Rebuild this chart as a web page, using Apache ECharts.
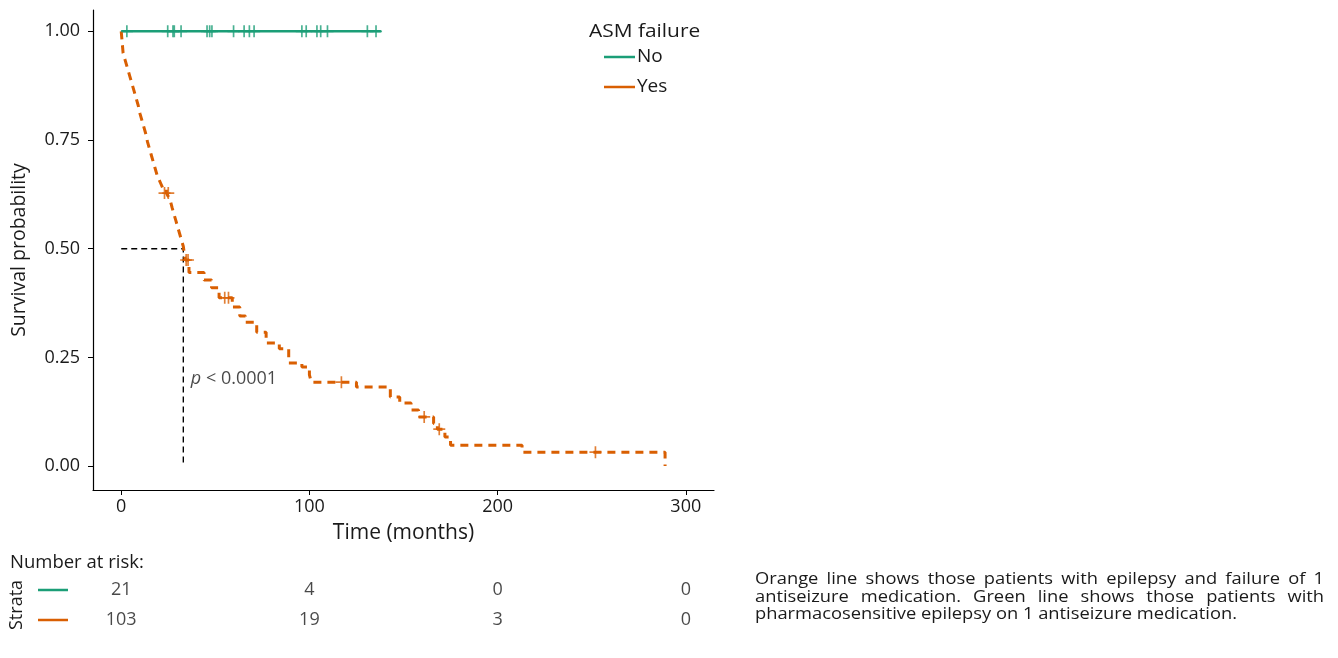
<!doctype html>
<html lang="en">
<head>
    <meta charset="UTF-8">
    <title>ASM failure survival</title>
    <style>
        body{ margin:0; background:#fff; }
        #chart{ width:1338px; height:658px; }
        .caption{
            position:absolute;
            left:755px;
            top:570px;
            width:497px;
            font-family:"Open Sans", sans-serif;
            font-size:16px;
            line-height:17.5px;
            color:#1a1a1a;
            text-align:justify;
            transform:scaleX(1.145);
            transform-origin:0 0;
        }
    </style>
</head>
<body>
    <div id="chart"></div>
    <div class="caption">Orange line shows those patients with epilepsy and failure of 1 antiseizure medication. Green line shows those patients with pharmacosensitive epilepsy on 1 antiseizure medication.</div>

    <script src="https://cdn.jsdelivr.net/npm/echarts@6/dist/echarts.min.js"></script>
    <script>
        // Kaplan-Meier steps, ASM failure = Yes
        var yesTimes = [0, 1, 2, 3, 4, 5, 6, 7, 8, 9, 10, 11, 12, 13, 14, 15, 16, 17, 18, 19, 20, 21, 22, 24, 25, 26, 27, 28, 29, 30, 31, 32, 33, 34, 36, 44, 48, 52, 59, 63, 66, 72, 77, 84, 89, 96, 100, 101, 125, 143, 148, 154, 158, 166, 168, 172, 175, 213, 289];
        var yesSurv  = [1.0, 0.95, 0.935, 0.92, 0.905, 0.89, 0.875, 0.86, 0.845, 0.83, 0.81, 0.795, 0.78, 0.765, 0.745, 0.73, 0.715, 0.70, 0.685, 0.67, 0.66, 0.65, 0.64, 0.628, 0.62, 0.612, 0.595, 0.58, 0.565, 0.55, 0.535, 0.52, 0.505, 0.474, 0.445, 0.428, 0.41, 0.387, 0.366, 0.345, 0.331, 0.308, 0.283, 0.27, 0.237, 0.228, 0.21, 0.193, 0.182, 0.159, 0.145, 0.129, 0.113, 0.098, 0.085, 0.067, 0.048, 0.032, 0.0];
        var yesCensorTimes = [23, 25, 34.5, 35.5, 55, 57, 117, 161, 169, 252];
        var yesCensorSurv  = [0.628, 0.628, 0.474, 0.474, 0.387, 0.387, 0.193, 0.113, 0.085, 0.032];

        // ASM failure = No
        var noTimes = [0, 138];
        var noSurv  = [1.0, 1.0];
        var noCensorTimes = [3, 24.7, 27.5, 28.2, 31.8, 45.6, 47, 48.2, 59.7, 65.3, 68.1, 70.6, 96, 98.3, 104, 106, 109.6, 130.8, 135.4];

        var medianTime = 33;
        var medianSurv = 0.5;

        var xTicks = [0, 100, 200, 300];
        var yTicks = [0, 0.25, 0.5, 0.75, 1.0];

        var riskTimes = [0, 100, 200, 300];
        var riskNo  = [21, 4, 0, 0];
        var riskYes = [103, 19, 3, 0];

        var green = '#1b9e77';
        var orange = '#d95f02';
        var ink = '#1a1a1a';
        var font = '"Open Sans", sans-serif';
        var plus = 'path://M-0.14,-1L0.14,-1L0.14,-0.14L1,-0.14L1,0.14L0.14,0.14L0.14,1L-0.14,1L-0.14,0.14L-1,0.14L-1,-0.14L-0.14,-0.14Z';

        function zip(a, b){ return a.map(function(v, i){ return [v, b[i]]; }); }

        var myChart = echarts.init(document.getElementById('chart'));

        var option = {
            animation: false,
            textStyle: { fontFamily: font },
            grid: [
                { left: 93, top: 10, width: 621, height: 480 },
                { left: 93, top: 575, width: 621, height: 60 }
            ],
            legend: {
                data: ['No', 'Yes'],
                orient: 'vertical',
                left: 599,
                top: 41,
                icon: 'rect',
                itemWidth: 31,
                itemHeight: 2.5,
                itemGap: 8,
                textStyle: { fontSize: 19, color: ink, lineHeight: 22, padding: [0, 0, 0, -3] }
            },
            xAxis: [{
                type: 'value', gridIndex: 0, min: -15, max: 315,
                name: 'Time (months)', nameLocation: 'middle', nameGap: 33,
                nameTextStyle: { fontSize: 21, color: ink },
                splitLine: { show: false },
                axisLine: { onZero: false, lineStyle: { color: '#000', width: 1.2 } },
                axisTick: { length: 5, lineStyle: { color: '#000' }, customValues: xTicks },
                axisLabel: { fontSize: 18, color: ink, margin: 8, customValues: xTicks }
            }, {
                type: 'value', gridIndex: 1, min: -15, max: 315, show: false
            }],
            yAxis: [{
                type: 'value', gridIndex: 0, min: -0.055, max: 1.049,
                name: 'Survival probability', nameLocation: 'middle', nameGap: 64,
                nameTextStyle: { fontSize: 19.5, color: ink },
                splitLine: { show: false },
                axisLine: { show: true, onZero: false, lineStyle: { color: '#000', width: 1.2 } },
                axisTick: { show: true, length: 5, lineStyle: { color: '#000' }, customValues: yTicks },
                axisLabel: {
                    fontSize: 18, color: ink, margin: 13, customValues: yTicks,
                    formatter: function(v){ return v.toFixed(2); }
                }
            }, {
                type: 'category', gridIndex: 1, data: ['Yes', 'No'], show: false
            }],
            series: [
                {
                    name: 'No', type: 'line', step: 'end', showSymbol: false,
                    data: zip(noTimes, noSurv), color: green,
                    lineStyle: { color: green, width: 2.5 }, z: 3
                },
                {
                    name: 'Yes', type: 'line', step: 'end', showSymbol: false,
                    data: zip(yesTimes, yesSurv), color: orange,
                    lineStyle: { color: orange, width: 3, type: [8, 6] }, z: 4
                },
                {
                    name: 'No censored', type: 'scatter', symbol: plus, symbolSize: 12,
                    data: noCensorTimes.map(function(t){ return [t, 1.0]; }),
                    itemStyle: { color: green }, z: 5
                },
                {
                    name: 'Yes censored', type: 'scatter', symbol: plus, symbolSize: 12,
                    data: zip(yesCensorTimes, yesCensorSurv),
                    itemStyle: { color: orange }, z: 5
                },
                {
                    name: 'median', type: 'line', showSymbol: false,
                    data: [[0, medianSurv], [medianTime, medianSurv], [medianTime, 0]],
                    lineStyle: { color: '#000', width: 1.4, type: [6, 4] }, z: 2
                },
                {
                    name: 'pvalue', type: 'scatter', symbolSize: 0,
                    data: [[37, 0.2]],
                    label: {
                        show: true, position: 'right', distance: 0,
                        formatter: '{i|p} < 0.0001',
                        fontSize: 18, color: ink,
                        rich: { i: { fontStyle: 'italic', fontSize: 18, color: ink } }
                    }
                },
                {
                    name: 'risk', type: 'scatter', xAxisIndex: 1, yAxisIndex: 1, symbolSize: 0,
                    data: riskTimes.map(function(t, i){ return [t, 'No', riskNo[i]]; })
                        .concat(riskTimes.map(function(t, i){ return [t, 'Yes', riskYes[i]]; })),
                    label: {
                        show: true, position: 'inside', fontSize: 18, color: ink,
                        formatter: function(p){ return p.data[2]; }
                    }
                }
            ],
            graphic: [
                { type: 'text', left: 589, top: 22, scaleX: 1.1, style: { text: 'ASM failure', fontSize: 19, fill: ink, fontFamily: font } },
                { type: 'text', left: 10, top: 553, style: { text: 'Number at risk:', fontSize: 18.5, fill: ink, fontFamily: font } },
                { type: 'text', x: 8, y: 630, rotation: Math.PI / 2, style: { text: 'Strata', fontSize: 18, fill: ink, fontFamily: font } },
                { type: 'line', shape: { x1: 38, y1: 590, x2: 68, y2: 590 }, style: { stroke: green, lineWidth: 2.5 } },
                { type: 'line', shape: { x1: 38, y1: 620, x2: 68, y2: 620 }, style: { stroke: orange, lineWidth: 2.5 } }
            ]
        };

        myChart.setOption(option);
    </script>
</body>
</html>
